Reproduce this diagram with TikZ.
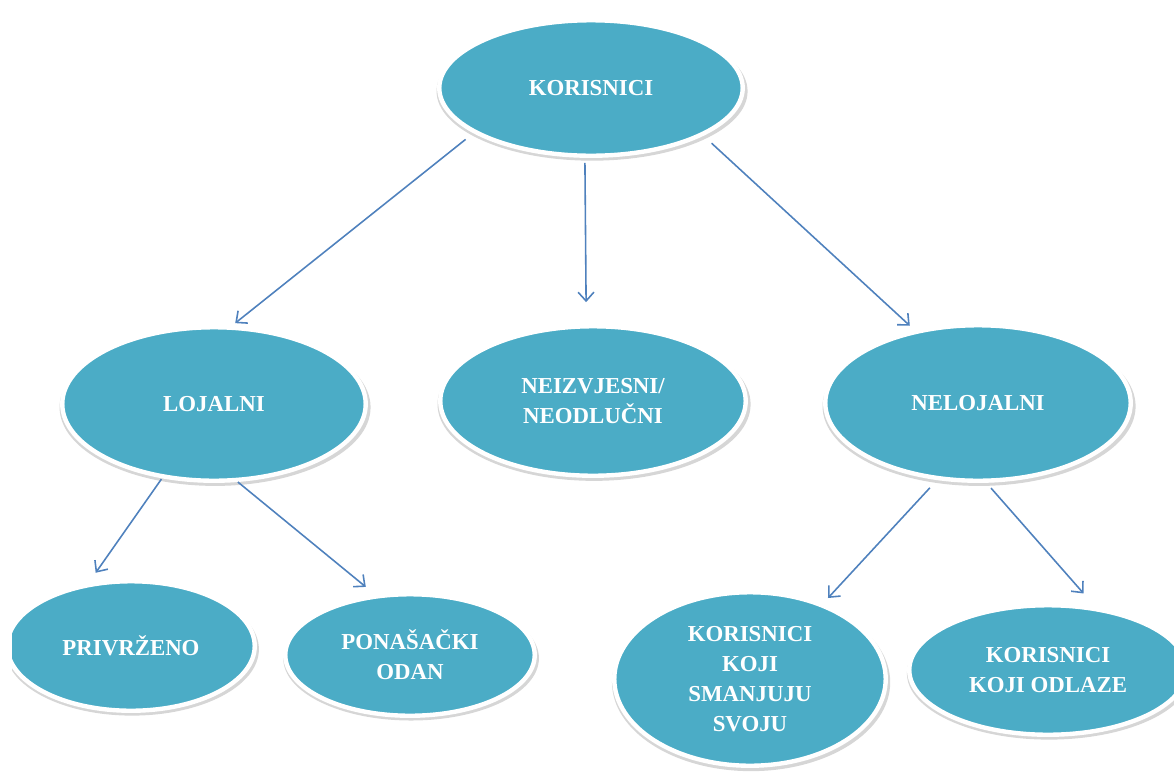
\documentclass[tikz,border=0pt]{standalone}
\usepackage{fontspec}
\setmainfont{Liberation Serif}
\usetikzlibrary{shapes.geometric,shadows,arrows.meta}

\definecolor{ovalfill}{HTML}{4BACC6}
\definecolor{strelica}{HTML}{4F81BD}

\tikzset{
  oval/.style={ellipse, fill=ovalfill, draw=white, line width=2.5pt, inner sep=0pt,
    drop shadow={shadow xshift=0.6pt, shadow yshift=-1.8pt, shadow scale=1.025, fill=black, opacity=0.16},
    text=white, align=center, font=\fontsize{13}{17}\selectfont\bfseries},
  arr/.style={draw=strelica, line width=0.9pt, -{Straight Barb[length=5pt,width=9pt]}}
}

\begin{document}
\begin{tikzpicture}[x=0.02cm,y=-0.02cm]
\useasboundingbox (0,0) rectangle (1174,772);
\clip (12,0) rectangle (1174,772);

% Top level
\node[oval, minimum width=6.07cm, minimum height=2.71cm] (korisnici) at (591,88) {KORISNICI};

% Second level
\node[oval, minimum width=6.07cm, minimum height=3.07cm] (lojalni) at (214,404) {LOJALNI};
\node[oval, minimum width=6.11cm, minimum height=2.99cm] (neizvjesni) at (593,401) {NEIZVJESNI/\\NEODLUČNI};
\node[oval, minimum width=6.11cm, minimum height=3.11cm] (nelojalni) at (978,403) {NELOJALNI};

% Third level
\node[oval, minimum width=4.95cm, minimum height=2.59cm] (privrzeno) at (131,646) {PRIVRŽENO};
\node[oval, minimum width=4.99cm, minimum height=2.43cm] (ponasacki) at (410,655) {PONAŠAČKI\\ODAN};
\node[oval, minimum width=5.43cm, minimum height=3.47cm] (smanjuju) at (750,679) {KORISNICI\\KOJI\\SMANJUJU\\SVOJU};
\node[oval, minimum width=5.55cm, minimum height=2.59cm] (odlaze) at (1048,670) {KORISNICI\\KOJI ODLAZE};

% Arrows
\draw[arr, shorten <=0.2cm, shorten >=0.08cm] (korisnici.201) -- (lojalni.77);
\draw[arr, shorten <=0.1cm, shorten >=0.44cm] (korisnici.265.9) -- (neizvjesni.95.2);
\draw[arr, shorten <=0.22cm, shorten >=0.13cm] (korisnici.337.2) -- (nelojalni.131.9);
\draw[arr, shorten <=0.02cm, shorten >=0.25cm] (lojalni.235.8) -- (privrzeno.124.5);
\draw[arr, shorten >=0.24cm] (lojalni.287.1) -- (ponasacki.120.6);
\draw[arr, shorten <=0.21cm, shorten >=0.15cm] (nelojalni.242.1) -- (smanjuju.46);
\draw[arr, shorten <=0.14cm, shorten >=0.36cm] (nelojalni.276.9) -- (odlaze.53.4);

\end{tikzpicture}
\end{document}
